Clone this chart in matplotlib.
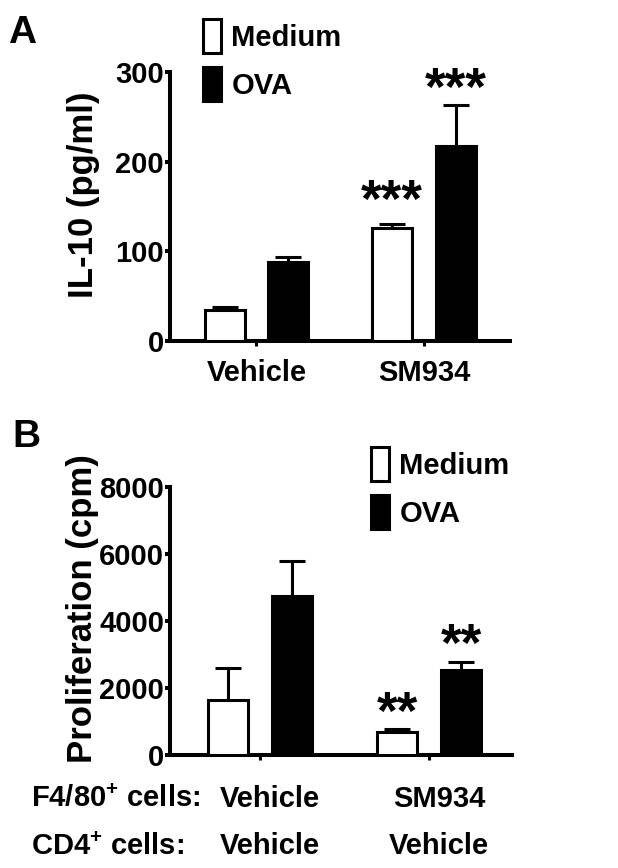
import numpy as np
import matplotlib
matplotlib.use('Agg')
import matplotlib.pyplot as plt
import matplotlib.transforms as mtransforms
from matplotlib.patches import Patch

plt.rcParams['font.family'] = ['Liberation Sans', 'DejaVu Sans']
plt.rcParams['font.weight'] = 'bold'
plt.rcParams['mathtext.fontset'] = 'custom'
plt.rcParams['mathtext.rm'] = 'Liberation Sans:bold'
plt.rcParams['mathtext.it'] = 'Liberation Sans:bold'
plt.rcParams['mathtext.bf'] = 'Liberation Sans:bold'

# panel A: IL-10
groups_a = ['Vehicle', 'SM934']
il10_medium = [35, 126]
il10_medium_err = [2.5, 5]
il10_ova = [88, 217]
il10_ova_err = [6, 46]
stars_a = ['', '***']
stars_a_y = [None, 154]
stars_a_ova = ['', '***']
stars_a_ova_y = [None, 279]

# panel B: proliferation
groups_b = ['Vehicle\nVehicle', 'SM934\nVehicle']
prolif_medium = [1650, 690]
prolif_medium_err = [940, 80]
prolif_ova = [4760, 2540]
prolif_ova_err = [1040, 230]
stars_b = ['', '**']
stars_b_y = [None, 1195]
stars_b_ova = ['', '**']
stars_b_ova_y = [None, 3230]

row_labels = ['F4/80$^{+}$ cells:', 'CD4$^{+}$ cells:']

W, H = 618, 868
fig = plt.figure(figsize=(W / 100, H / 100), dpi=100)

LW = 2.9
EDGE = 2.2
FS = 21


def px(x0, y0, x1, y1):
    # pixel box (left, top, right, bottom) -> figure fraction rect
    return [x0 / W, 1 - y1 / H, (x1 - x0) / W, (y1 - y0) / H]


def one_sided(bars, heights):
    # hide the lower cap that errorbar puts on top of each bar
    for cap in bars.errorbar.lines[1]:
        if np.allclose(cap.get_ydata(), heights):
            cap.set_visible(False)


def bar_panel(ax, labels, med, med_err, ova, ova_err, ylim, yticks, pad, spacing):
    x = np.arange(len(labels))
    off, width = 0.19, 0.24
    ekw = dict(elinewidth=EDGE, capsize=9.7, capthick=EDGE, ecolor='black', zorder=2)
    b1 = ax.bar(x - off, med, width, color='white', edgecolor='black', linewidth=EDGE,
                yerr=[np.zeros(len(med)), med_err], error_kw=ekw, zorder=3)
    b2 = ax.bar(x + off, ova, width, color='black', edgecolor='black', linewidth=EDGE,
                yerr=[np.zeros(len(ova)), ova_err], error_kw=ekw, zorder=3)
    one_sided(b1, med)
    one_sided(b2, ova)
    ax.set_ylim(*ylim)
    ax.set_yticks(yticks)
    ax.set_xticks(x)
    ax.set_xticklabels(labels, fontsize=FS, fontweight='bold', linespacing=spacing)
    for s in ['top', 'right']:
        ax.spines[s].set_visible(False)
    for s in ['left', 'bottom']:
        ax.spines[s].set_linewidth(LW)
    ax.tick_params(axis='y', direction='out', length=3.8, width=LW, pad=0.5, labelsize=FS)
    ax.tick_params(axis='x', direction='out', length=3.5, width=2.2, pad=pad, labelsize=FS)
    return x, off


def add_legend(ax, x0, y0):
    handles = [Patch(facecolor='white', edgecolor='black', linewidth=EDGE, label='Medium'),
               Patch(facecolor='black', edgecolor='black', linewidth=EDGE, label='OVA')]
    ax.legend(handles=handles, loc='upper left', bbox_to_anchor=(x0 / W, 1 - y0 / H),
              bbox_transform=fig.transFigure, frameon=False, borderpad=0, borderaxespad=0,
              handlelength=0.62, handleheight=1.41, labelspacing=0.5, handletextpad=0.35,
              prop={'size': FS, 'weight': 'bold'})


def add_stars(ax, xs, texts, ys, size):
    for xi, t, yi in zip(xs, texts, ys):
        if t:
            ax.text(xi, yi, t, ha='center', va='center', fontsize=size, fontweight='bold')


# ---- panel A
axa = fig.add_axes(px(170, 72, 510, 341))
xa, offa = bar_panel(axa, groups_a, il10_medium, il10_medium_err, il10_ova, il10_ova_err,
                     (0, 300), [0, 100, 200, 300], 9.5, 1.2)
axa.set_xlim(-0.516, 1.513)
add_stars(axa, xa - offa, stars_a, stars_a_y, 38)
add_stars(axa, xa + offa, stars_a_ova, stars_a_ova_y, 38)
axa.set_ylabel('IL-10 (pg/ml)', fontsize=25, fontweight='bold', va='center')
axa.yaxis.set_label_coords(-0.253, 0.543)
add_legend(axa, 203, 19)
fig.text(8 / W, 1 - 43 / H, 'A', fontsize=28, fontweight='bold', va='baseline')

# ---- panel B
axb = fig.add_axes(px(170, 487, 512, 755))
xb, offb = bar_panel(axb, groups_b, prolif_medium, prolif_medium_err, prolif_ova, prolif_ova_err,
                     (0, 8000), [0, 2000, 4000, 6000, 8000], 18, 1.89)
axb.set_xlim(-0.533, 1.491)
add_stars(axb, xb - offb, stars_b, stars_b_y, 38)
add_stars(axb, xb + offb, stars_b_ova, stars_b_ova_y, 38)
axb.set_ylabel('Proliferation (cpm)', fontsize=25, fontweight='bold', va='center')
axb.yaxis.set_label_coords(-0.257, 0.545)
add_legend(axb, 371, 447)
fig.text(12 / W, 1 - 447 / H, 'B', fontsize=28, fontweight='bold', va='baseline')

shift = mtransforms.ScaledTranslation(0.10, 0, fig.dpi_scale_trans)
for lab in axb.get_xticklabels():
    lab.set_transform(lab.get_transform() + shift)

for i, t in enumerate(row_labels):
    fig.text(31 / W, 1 - (807 + 48 * i) / H, t, fontsize=FS, fontweight='bold', va='baseline')

fig.savefig('out.png', dpi=100)
